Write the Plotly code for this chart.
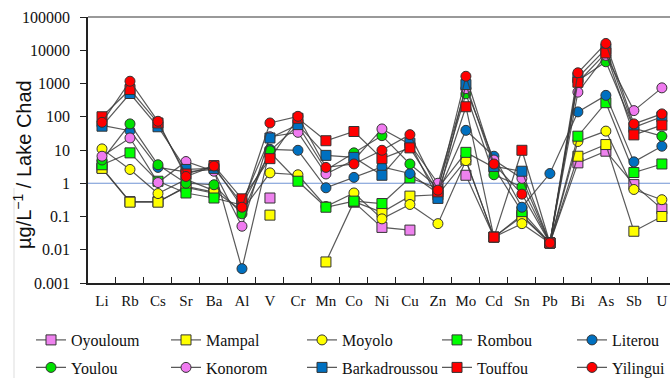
import plotly.graph_objects as go

elements = ["Li", "Rb", "Cs", "Sr", "Ba", "Al", "V", "Cr", "Mn", "Co", "Ni",
            "Cu", "Zn", "Mo", "Cd", "Sn", "Pb", "Bi", "As", "Sb", "U"]

oyouloum = [2.9, 0.28, 0.28, 0.75, 0.5, None, 0.36, None, None, 0.27, 0.047,
            0.039, None, 1.74, 0.024, 0.11, 0.016, 4.1, 9.2, 0.91, 0.17]
mampal = [2.8, 0.27, 0.27, 0.8, 0.54, None, 0.11, None, 0.0043, 0.28, 0.134,
          0.41, 0.45, 5.0, 0.024, 0.1, 0.016, 6.5, 14.6, 0.036, 0.10]
moyolo = [10.8, 2.6, 0.49, 1.3, 0.6, 0.15, 2.05, 1.8, 0.2, 0.51, 0.085,
          0.23, 0.061, 4.8, 0.024, 0.061, 0.016, 18, 37, 0.65, 0.32]
rombou = [3.6, 8.2, 1.15, 0.51, 0.36, 0.22, 8.5, 1.15, 0.19, 0.29, 0.245,
          1.45, 0.7, 8.5, 3.0, 0.14, 0.016, 26, 265, 2.1, 3.8]
literou = [55, 38, 3.0, 2.2, 2.6, 0.0027, 10.5, 9.8, 0.73, 1.5, 3.1,
           1.96, 0.5, 39, 6.5, 0.19, 1.96, 140, 440, 4.4, 13]
youlou = [5.0, 61, 3.6, 1.0, 0.9, 0.12, 9.5, 55, 2.5, 8.2, 27,
          3.8, 0.75, 490, 1.8, 0.78, 0.016, 1200, 4500, 45, 26]
konorom = [6.5, 23, 1.05, 4.5, 2.3, 0.051, 25, 34, 1.9, 5.0, 43,
           15, 1.0, 700, 5.0, 1.4, 0.016, 550, 7000, 153, 740]
barkadroussou = [52, 500, 50, 2.6, 2.8, 0.25, 23, 58, 6.9, 6.0, 1.74,
                 16, 0.35, 930, 3.2, 2.3, 0.016, 1500, 11000, 48, 100]
touffou = [100, 660, 65, 1.9, 3.4, 0.34, 5.5, 90, 19, 36, 5.5,
           11.6, 0.55, 200, 0.024, 9.8, 0.016, 1090, 8300, 28.5, 56]
yilingui = [68, 1170, 73, 1.6, 3.3, 0.19, 65, 103, 3.0, 3.8, 9.8,
            29, 0.62, 1650, 3.8, 0.47, 0.016, 2100, 16000, 61, 122]

series_names = ["Oyouloum", "Mampal", "Moyolo", "Rombou", "Literou",
                "Youlou", "Konorom", "Barkadroussou", "Touffou", "Yilingui"]
series_values = [oyouloum, mampal, moyolo, rombou, literou,
                 youlou, konorom, barkadroussou, touffou, yilingui]
series_colors = ["#EE82EE", "#FFFF00", "#FFFF00", "#00FF00", "#0070C0",
                 "#00E000", "#F07AF0", "#0070C0", "#FF0000", "#FF0000"]
series_symbols = ["square", "square", "circle", "square", "circle",
                  "circle", "circle", "square", "square", "circle"]

y_tickvals = [0.001, 0.01, 0.1, 1, 10, 100, 1000, 10000, 100000]
y_ticktext = ["0.001", "0.01", "0.1", "1", "10", "100", "1000", "10000", "100000"]

W, H = 670, 378
ML, MT, MB = 88, 17, 95
PW, PH = W - ML, H - MT - MB


def px_x(px):
    return (px - ML) / PW


def px_y(py):
    return (H - MB - py) / PH


legend_marker_x = [51, 186, 322, 457, 592]
legend_row_y = [340, 367.5]

fig = go.Figure()
layout_legends = {}
for i, (name, vals, col, sym) in enumerate(zip(series_names, series_values,
                                               series_colors, series_symbols)):
    lg = "legend" if i == 0 else f"legend{i + 1}"
    fig.add_trace(go.Scatter(
        x=elements, y=vals, name=name, mode="lines+markers",
        connectgaps=False, legend=lg,
        line=dict(color="rgba(60,60,60,0.85)", width=1.2),
        marker=dict(symbol=sym, size=10, color=col,
                    line=dict(color="#333333", width=1)),
    ))
    col_i = i % 5
    row_i = i // 5
    layout_legends[lg] = dict(
        x=px_x(legend_marker_x[col_i] - 20), xref="paper", xanchor="left",
        y=px_y(legend_row_y[row_i]), yref="paper", yanchor="middle",
        bgcolor="rgba(0,0,0,0)", borderwidth=0,
        font=dict(family="Liberation Serif", size=16, color="#111111"),
        itemclick=False, itemdoubleclick=False,
    )

fig.update_layout(
    width=W, height=H,
    margin=dict(l=ML, r=0, t=MT, b=MB, pad=0, autoexpand=False),
    paper_bgcolor="white", plot_bgcolor="white",
    showlegend=True,
    **layout_legends,
)

fig.update_xaxes(
    type="category", categoryorder="array", categoryarray=elements,
    range=[-0.5, 20.29], tickson="boundaries", tickangle=0,
    ticks="inside", ticklen=6, tickcolor="#222222", tickwidth=1,
    showline=True, linecolor="#222222", linewidth=1.5,
    showgrid=False, zeroline=False,
    tickfont=dict(family="Liberation Serif", size=15, color="#111111"),
    ticklabelstandoff=3,
)
fig.update_yaxes(
    type="log", range=[-3, 5],
    tickvals=y_tickvals, ticktext=y_ticktext,
    ticks="outside", ticklen=6, tickcolor="#222222", tickwidth=1,
    showline=True, linecolor="#222222", linewidth=1.5,
    showgrid=False, zeroline=False,
    tickfont=dict(family="Liberation Serif", size=16, color="#111111"),
    ticklabelstandoff=7,
)

# reference line at 1
fig.add_shape(type="line", xref="paper", yref="y", x0=0, x1=1, y0=1, y1=1,
              line=dict(color="#7094D4", width=1.2), layer="below")
# top frame line
fig.add_shape(type="line", xref="paper", yref="paper", x0=0, x1=1, y0=1, y1=1,
              line=dict(color="#777777", width=1.5))
# faint left border
fig.add_shape(type="line", xref="paper", yref="paper",
              x0=px_x(14), x1=px_x(14), y0=px_y(378), y1=px_y(188),
              line=dict(color="#DDDDDD", width=1))

fig.add_annotation(
    text="µg/L<sup>−1</sup> / Lake Chad", textangle=-90,
    xref="paper", yref="paper",
    x=px_x(22), y=px_y(165),
    xanchor="center", yanchor="middle", showarrow=False,
    font=dict(family="Liberation Sans", size=20, color="#111111"),
)

fig.write_html("out.html")
